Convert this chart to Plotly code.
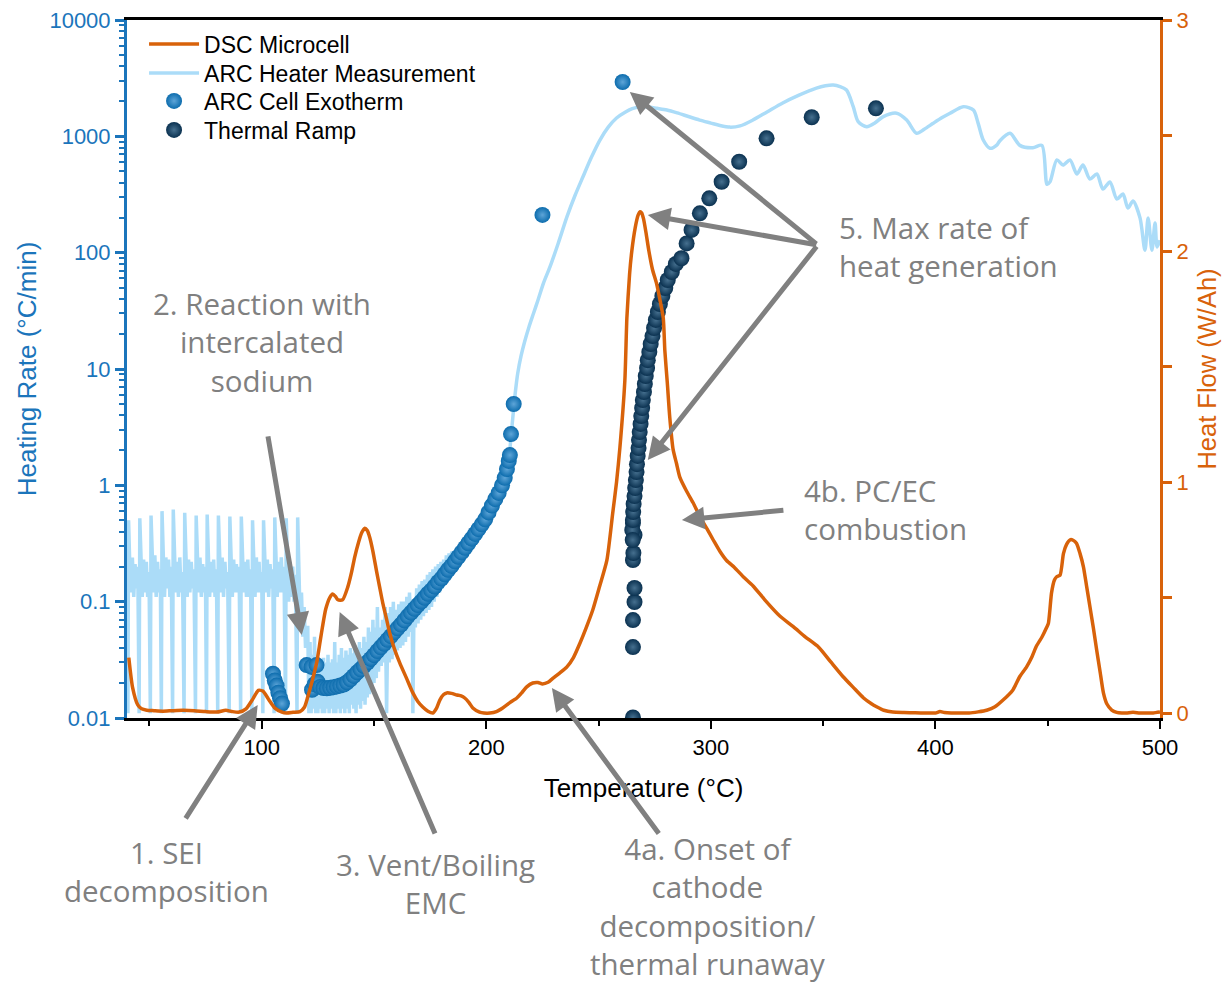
import plotly.graph_objects as go

# ---------------- DSC Microcell (heat flow, W/Ah, right axis) ----------------
dsc_temp = [40.8, 42.5, 44.8, 46.5, 48.8, 52, 56, 60, 65, 70, 75, 80, 84, 87, 90, 93, 96, 98.5,
            100.5, 103, 106, 109, 111, 114, 117, 119, 120.5, 122.5, 124.5, 126, 127, 128.5,
            130.3, 131.6, 132.8, 133.9, 136, 138.3, 140, 141.4, 143, 144.5, 145.9, 147, 148.1,
            149.5, 151.2, 152.5, 153.9, 155.5, 157, 159, 161.5, 164.5, 167.3, 169.5, 171.7,
            174, 176.2, 177.8, 179.3, 181, 182.4, 184.5, 186.9, 188.8, 190.4, 192.3, 194, 197,
            199, 201.6, 204.5, 207.3, 210.5, 213.6, 216, 218, 220.7, 223, 225, 227.5, 229.6,
            232.5, 235.9, 238.8, 241.6, 244.5, 247.4, 250.5, 253.7, 256.3, 258, 259.5, 261.7,
            262.6, 263.8, 264.8, 266.3, 267.6, 268.5, 269.2, 270, 271.1, 272.4, 274, 275.8,
            277.3, 278.8, 279.5, 280.6, 281.7, 283.2, 284.7, 286.2, 289.2, 292.1, 295.1, 298.1,
            301, 304, 307, 310.5, 314.4, 318.8, 324, 330.7, 336.7, 342, 348, 353.5, 358.9,
            363.5, 368, 371.5, 373.8, 377, 381, 386, 391, 396, 400, 402, 404, 407, 411, 415,
            419, 422.8, 426.5, 430, 434.5, 437.5, 440.6, 443, 445, 447.5, 449.5, 450.3, 451,
            451.7, 453, 454, 455.5, 457, 458.4, 460, 461.3, 462.8, 464.4, 465.9, 467.3, 468.8,
            470.3, 471.8, 473.3, 474.8, 476.3, 478.5, 480.7, 483, 485, 488, 491, 494, 497,
            500]
dsc_heat_flow = [0.24, 0.11, 0.035, 0.018, 0.012, 0.01, 0.008, 0.01, 0.012, 0.01, 0.006,
                 0.004, 0.012, 0.006, 0.004, 0.018, 0.06, 0.098, 0.095, 0.06, 0.02, 0.004,
                 0.0, 0.003, 0.006, 0.025, 0.07, 0.14, 0.22, 0.31, 0.37, 0.45, 0.50, 0.515,
                 0.505, 0.49, 0.49, 0.545, 0.61, 0.675, 0.735, 0.78, 0.80, 0.79, 0.76, 0.70,
                 0.61, 0.545, 0.476, 0.41, 0.346, 0.28, 0.216, 0.15, 0.087, 0.05, 0.026,
                 0.008, 0.0, 0.02, 0.056, 0.08, 0.087, 0.085, 0.078, 0.074, 0.065, 0.045,
                 0.022, 0.004, 0.0, 0.0, 0.006, 0.022, 0.045, 0.065, 0.09, 0.113, 0.13, 0.132,
                 0.126, 0.133, 0.15, 0.172, 0.20, 0.24, 0.30, 0.37, 0.446, 0.55, 0.662, 0.866,
                 1.0, 1.15, 1.44, 1.71, 1.90, 2.0, 2.10, 2.155, 2.17, 2.165, 2.14, 2.08, 2.0,
                 1.92, 1.86, 1.79, 1.71, 1.57, 1.43, 1.28, 1.14, 1.08, 1.02, 0.96, 0.91, 0.85,
                 0.80, 0.75, 0.70, 0.66, 0.63, 0.59, 0.55, 0.49, 0.42, 0.374, 0.33, 0.285,
                 0.22, 0.157, 0.11, 0.065, 0.04, 0.027, 0.012, 0.004, 0.002, 0.001, 0.0, 0.0,
                 0.006, 0.002, 0.0, 0.0, 0.0, 0.005, 0.012, 0.027, 0.055, 0.10, 0.157, 0.20,
                 0.244, 0.29, 0.33, 0.37, 0.388, 0.45, 0.52, 0.576, 0.59, 0.597, 0.69, 0.73,
                 0.75, 0.748, 0.735, 0.69, 0.633, 0.55, 0.46, 0.37, 0.273, 0.18, 0.087, 0.04,
                 0.013, 0.003, 0.0, 0.0, 0.003, 0.0, 0.0, 0.0, 0.004, 0.01]

# ---------------- ARC heater measurement (heating rate, °C/min) ----------------
# heater cycling during the heat-wait-seek steps
heater_temp_cycling = [
    40.4, 40.7, 41.2, 41.8, 42.4, 43.0, 43.6, 44.2, 44.8,
    45.4, 45.7, 46.2, 46.8, 47.4, 48.0, 48.6, 49.2, 49.8,
    50.4, 50.7, 51.2, 51.8, 52.4, 53.0, 53.6, 54.2, 54.8,
    55.3, 55.6, 56.1, 56.7, 57.3, 57.9, 58.5, 59.1, 59.7,
    60.3, 60.6, 61.1, 61.7, 62.3, 62.9, 63.5, 64.1, 64.7,
    65.4, 65.7, 66.2, 66.8, 67.4, 68.0, 68.6, 69.2, 69.8,
    70.5, 70.8, 71.3, 71.9, 72.5, 73.1, 73.7, 74.3, 74.9,
    75.4, 75.7, 76.2, 76.8, 77.4, 78.0, 78.6, 79.2, 79.8,
    80.4, 80.7, 81.2, 81.8, 82.4, 83.0, 83.6, 84.2, 84.8,
    85.5, 85.8, 86.3, 86.9, 87.5, 88.1, 88.7, 89.3, 89.9,
    90.6, 90.9, 91.4, 92.0, 92.6, 93.2, 93.8, 94.4, 95.0,
    95.6, 95.9, 96.4, 97.0, 97.6, 98.2, 98.8, 99.4, 100.0,
    100.5, 100.8, 101.3, 101.9, 102.5, 103.1, 103.7, 104.3, 104.9,
    105.5, 105.8, 106.3, 106.9, 107.5, 108.1, 108.7, 109.3, 109.9,
    110.6, 110.9, 111.4, 112.0, 112.6, 113.2, 113.8, 114.4, 115.0,
    115.7, 116.0, 116.5, 117.1, 117.7, 118.3, 118.9, 119.5, 120.0]
heater_rate_cycling = [
    0.011, 0.50, 0.22, 0.12, 0.24, 0.11, 0.21, 0.13, 0.20,
    0.011, 0.52, 0.20, 0.11, 0.23, 0.12, 0.22, 0.11, 0.18,
    0.011, 0.55, 0.23, 0.12, 0.25, 0.11, 0.22, 0.12, 0.19,
    0.011, 0.60, 0.22, 0.11, 0.24, 0.13, 0.23, 0.11, 0.20,
    0.011, 0.62, 0.24, 0.12, 0.22, 0.11, 0.24, 0.12, 0.18,
    0.011, 0.58, 0.21, 0.11, 0.23, 0.12, 0.22, 0.13, 0.19,
    0.011, 0.55, 0.22, 0.12, 0.24, 0.11, 0.21, 0.12, 0.20,
    0.011, 0.56, 0.23, 0.11, 0.22, 0.12, 0.23, 0.11, 0.19,
    0.011, 0.55, 0.21, 0.12, 0.24, 0.11, 0.22, 0.13, 0.18,
    0.011, 0.54, 0.22, 0.11, 0.23, 0.12, 0.21, 0.12, 0.20,
    0.011, 0.54, 0.23, 0.12, 0.22, 0.11, 0.23, 0.11, 0.19,
    0.011, 0.50, 0.21, 0.11, 0.24, 0.12, 0.22, 0.12, 0.18,
    0.011, 0.50, 0.22, 0.12, 0.23, 0.11, 0.21, 0.13, 0.19,
    0.011, 0.53, 0.23, 0.11, 0.22, 0.12, 0.24, 0.12, 0.20,
    0.011, 0.52, 0.20, 0.10, 0.22, 0.11, 0.20, 0.10, 0.17,
    0.011, 0.53, 0.15, 0.07, 0.12, 0.05, 0.09, 0.04, 0.06]

# venting / early exotherm region
heater_temp_vent = [
    120.5, 121.0, 121.5, 122.0, 122.5, 123.0, 123.5, 124.0, 124.5, 125.0, 125.5, 126.0,
    126.5, 127.0, 127.5, 128.0, 128.5, 129.0, 129.5, 130.0, 130.5, 131.0, 131.5, 132.0,
    132.5, 133.0, 133.5, 134.0, 134.5, 135.0, 135.5, 136.0, 136.5, 137.0, 137.5, 138.0,
    138.5, 139.0, 139.5, 140.0, 140.5, 141.0, 141.5, 142.0, 142.5, 143.0, 143.5, 144.0,
    144.5, 145.0, 145.5, 146.0, 146.5, 147.0, 147.5, 148.0, 148.5, 149.0, 149.5, 150.0,
    150.5, 151.0, 151.5, 152.0, 152.6, 153.2, 153.8, 154.4, 155.0, 155.6, 156.2, 156.8,
    157.4, 158.0, 158.6, 159.2, 159.8, 160.4, 161.0, 161.6, 162.2, 162.8, 163.4, 164.0,
    164.6, 165.2, 165.8, 166.4, 167.0, 167.3, 167.8, 168.4, 169.0, 169.6, 170.2, 170.8,
    171.4, 172.0, 172.6, 173.2, 173.8, 174.4, 175.0, 175.6, 176.2, 176.8, 177.4, 178.0,
    178.6, 179.2, 179.8, 180.4, 181.0, 181.6, 182.2, 182.8, 183.4, 184.0, 184.6, 185.2,
    187.0, 190.0, 193.0, 196.0, 199.0, 202.0, 205.0, 208.0, 210.0]
heater_rate_vent = [
    0.06, 0.011, 0.045, 0.011, 0.035, 0.012, 0.05, 0.011, 0.032, 0.011, 0.030, 0.012,
    0.028, 0.011, 0.033, 0.011, 0.030, 0.012, 0.035, 0.011, 0.030, 0.012, 0.032, 0.011,
    0.045, 0.011, 0.030, 0.012, 0.035, 0.011, 0.040, 0.012, 0.033, 0.011, 0.038, 0.012,
    0.035, 0.011, 0.040, 0.013, 0.036, 0.012, 0.042, 0.011, 0.040, 0.013, 0.045, 0.012,
    0.040, 0.014, 0.050, 0.013, 0.045, 0.015, 0.060, 0.016, 0.055, 0.018, 0.070, 0.020,
    0.060, 0.022, 0.090, 0.025, 0.060, 0.028, 0.070, 0.030, 0.090, 0.011, 0.080, 0.030,
    0.090, 0.032, 0.100, 0.035, 0.085, 0.038, 0.095, 0.040, 0.100, 0.042, 0.100, 0.045,
    0.110, 0.050, 0.120, 0.055, 0.100, 0.011, 0.090, 0.060, 0.130, 0.065, 0.140, 0.070,
    0.150, 0.075, 0.155, 0.080, 0.170, 0.085, 0.180, 0.090, 0.190, 0.100, 0.200, 0.110,
    0.210, 0.120, 0.220, 0.130, 0.230, 0.140, 0.250, 0.150, 0.260, 0.160, 0.270, 0.180,
    0.230, 0.280, 0.340, 0.410, 0.500, 0.620, 0.820, 1.100, 1.6]

# thermal runaway and post-runaway heater response (smooth record)
heater_temp_runaway = [
    210.0, 211.0, 212.0, 213.0, 214.0, 215.5, 217.0, 219.0, 221.0, 223.0, 225.5, 228.3,
    232.0, 235.9, 239.5, 243.0, 246.8, 250.6, 254.3, 258.0, 262.0, 265.0, 268.4, 272.0,
    276.0, 280.4, 285.0, 290.0, 295.0, 300.0, 304.0, 308.5, 313.0, 318.7, 325.0, 332.0,
    339.0, 347.0, 351.0, 354.5, 357.5, 360.4, 363.4, 365.6, 369.4, 373.0, 376.6, 382.7,
    387.2, 391.6, 395.0, 399.0, 403.0, 406.5, 412.4, 416.9, 419.0, 421.3, 424.3, 427.3,
    428.7, 433.2, 437.6, 443.4, 447.4, 449.7, 451.0, 454.1, 456.8, 459.9, 463.0, 465.7,
    468.8, 471.9, 474.6, 477.7, 480.8, 483.5, 485.7, 488.0, 491.1, 493.3, 494.7, 496.4,
    497.8, 498.7, 500.0]
heater_rate_runaway = [
    1.6, 2.6, 4.2, 6.5, 9.2, 13, 17, 23, 30, 39, 55, 75,
    120, 203, 310, 447, 660, 929, 1200, 1438, 1620, 1730, 1787, 1790,
    1740, 1683, 1590, 1480, 1380, 1300, 1240, 1200, 1230, 1380, 1620, 1937,
    2250, 2600, 2720, 2760, 2680, 2500, 1800, 1336, 1208, 1300, 1470, 1580,
    1380, 1062, 1150, 1294, 1450, 1580, 1800, 1680, 1300, 929, 789, 840,
    918, 1062, 836, 797, 836, 387, 406, 627, 567, 627, 474, 567,
    430, 474, 352, 405, 289, 319, 242, 278, 199, 105, 199, 105,
    180, 112, 128]

# ---------------- ARC cell exotherm (self-heating points) ----------------
exotherm_temp = [
    105.0, 105.8, 106.6, 107.4, 108.2, 109.0,
    120.0, 122.2, 124.4, 122.4, 123.6,
    124.8, 126.0, 127.5, 129.0, 130.5, 132.0, 133.5, 135.0, 136.5, 138.0, 139.5, 141.0,
    142.5, 144.0, 145.5, 147.0, 148.5, 150.0, 151.5, 153.0, 154.5, 156.0, 157.5, 159.0,
    160.5, 162.0, 163.5, 165.0, 166.5, 168.0, 169.5, 171.0, 172.5, 174.0, 175.5, 177.0,
    178.5, 180.0, 181.5, 183.0, 184.5, 186.0, 187.5, 189.0, 190.5, 192.0, 193.5, 195.0,
    196.5, 198.0, 199.5, 201.0, 202.5, 204.0, 205.5, 207.0, 208.2, 209.2, 210.0, 210.5,
    211.0, 212.2, 225.0, 260.7]
exotherm_rate = [
    0.024, 0.021, 0.019, 0.0165, 0.0148, 0.0133,
    0.0285, 0.0275, 0.0285, 0.0175, 0.0195,
    0.0205, 0.0185, 0.0181, 0.0180, 0.0182, 0.0184, 0.0187, 0.0190, 0.0194, 0.0203, 0.0215,
    0.0230, 0.0247, 0.0262, 0.0280, 0.0300, 0.0322, 0.0347, 0.0376, 0.0405, 0.0435, 0.0470,
    0.0505, 0.0547, 0.0590, 0.0635, 0.0690, 0.0748, 0.0805, 0.0868, 0.0935, 0.100, 0.108,
    0.117, 0.125, 0.135, 0.147, 0.158, 0.172, 0.188, 0.203, 0.222, 0.243, 0.265, 0.290,
    0.318, 0.348, 0.382, 0.420, 0.462, 0.510, 0.585, 0.670, 0.760, 0.860, 1.00, 1.16, 1.38,
    1.62, 1.82, 2.76, 5.0, 211, 2930]

# ---------------- Thermal ramp points ----------------
ramp_temp = [
    265.3, 265.3, 265.3, 266.0, 266.0, 265.3, 265.5, 266.0, 265.3, 265.0, 265.2,
    265.26, 265.4, 265.6, 266.0, 266.3, 266.6, 266.9, 267.1, 267.4, 267.8, 268.0, 268.3,
    268.7, 269.0, 269.4, 269.7, 270.2, 270.6, 271.0, 271.6, 271.9, 272.6, 273.2, 274.0,
    274.7, 275.5, 276.4, 277.3, 278.4, 279.7, 280.8, 282.6, 284.4, 286.9,
    289.2, 291.4, 295.1, 299.3, 304.8, 312.6, 324.8, 344.9, 373.5]
ramp_rate = [
    0.0101, 0.0407, 0.0695, 0.0993, 0.131, 0.228, 0.262, 0.374, 0.474, 0.413, 0.339,
    0.503, 0.590, 0.691, 0.809, 0.948, 1.11, 1.30, 1.52, 1.79, 2.09, 2.45, 2.87,
    3.37, 3.94, 4.62, 5.41, 6.34, 7.43, 8.71, 10.2, 11.9, 14.0, 16.4, 19.2,
    22.5, 26.4, 30.9, 36.2, 42.4, 49.7, 58.2, 68.2, 80.0, 89.5,
    120, 157, 218, 293, 407, 605, 962, 1459, 1742]

heater_temp_noisy = heater_temp_cycling + heater_temp_vent
heater_rate_noisy = heater_rate_cycling + heater_rate_vent

# ---------------- styling ----------------
ORANGE = "#d8620a"
LIGHT_BLUE = "#abdcf8"
EXO_BLUE = "#0c6cad"
RAMP_NAVY = "#0a3150"
AXIS_BLUE = "#1b75bb"
NOTE_GRAY = "#808080"
TICK_FONT = "Liberation Sans, Arial, sans-serif"
NOTE_FONT = "Open Sans, sans-serif"
LEGEND_FONT = dict(family=TICK_FONT, size=23, color="black")

fig = go.Figure()

# heater record: noisy part as straight segments, runaway part smoothed
fig.add_trace(go.Scatter(
    x=heater_temp_noisy, y=heater_rate_noisy, mode="lines", name="ARC Heater Measurement",
    line=dict(color=LIGHT_BLUE, width=3.5), legend="legend2", legendgroup="heater",
    yaxis="y"))
fig.add_trace(go.Scatter(
    x=heater_temp_runaway, y=heater_rate_runaway, mode="lines", name="ARC Heater Measurement",
    line=dict(color=LIGHT_BLUE, width=3.5, shape="spline", smoothing=0.8),
    legendgroup="heater", showlegend=False, yaxis="y"))

fig.add_trace(go.Scatter(
    x=exotherm_temp, y=exotherm_rate, mode="markers", name="ARC Cell Exotherm",
    marker=dict(size=16, color=EXO_BLUE, line=dict(width=0),
                gradient=dict(type="radial", color="#5ea5d8")),
    legend="legend3", yaxis="y"))

fig.add_trace(go.Scatter(
    x=ramp_temp, y=ramp_rate, mode="markers", name="Thermal Ramp",
    marker=dict(size=16, color=RAMP_NAVY, line=dict(width=0),
                gradient=dict(type="radial", color="#46708f")),
    legend="legend4", yaxis="y"))

fig.add_trace(go.Scatter(
    x=dsc_temp, y=dsc_heat_flow, mode="lines", name="DSC Microcell",
    line=dict(color=ORANGE, width=3.5, shape="spline", smoothing=0.6),
    legend="legend", yaxis="y2"))

# ---------------- annotations ----------------
notes = [
    dict(text="2. Reaction with<br>intercalated<br>sodium", x=0.1307, y=0.5387,
         xanchor="center", align="center"),
    dict(text="5. Max rate of<br>heat generation", x=0.6873, y=0.6762,
         xanchor="left", align="left"),
    dict(text="4b. PC/EC<br>combustion", x=0.6534, y=0.2994,
         xanchor="left", align="left"),
    dict(text="1. SEI<br>decomposition", x=0.0387, y=-0.2192,
         xanchor="center", align="center"),
    dict(text="3. Vent/Boiling<br>EMC", x=0.2991, y=-0.2378,
         xanchor="center", align="center"),
    dict(text="4a. Onset of<br>cathode<br>decomposition/<br>thermal runaway", x=0.5615,
         y=-0.2693, xanchor="center", align="center"),
]
annotations = []
for n in notes:
    annotations.append(dict(
        text=n["text"], x=n["x"], y=n["y"], xref="paper", yref="paper",
        xanchor=n["xanchor"], yanchor="middle", align=n["align"], showarrow=False,
        font=dict(family=NOTE_FONT, size=29.5, color=NOTE_GRAY)))

# arrows: tip in data coordinates (temperature, heat flow), tail offset in pixels
arrows = [
    (98.2, 0.035, -73, 115),
    (117.8, 0.338, -34, -200),
    (134.7, 0.437, 96, 223),
    (229.2, 0.108, 108, 147),
    (287.1, 0.835, 103, -10),
    (263.9, 2.688, 188, 153),
    (271.9, 2.156, 170, 30),
    (271.9, 1.095, 170, -215),
]
for tx, ty, ax, ay in arrows:
    annotations.append(dict(
        text="", x=tx, y=ty, xref="x", yref="y2", ax=ax, ay=ay, showarrow=True,
        arrowhead=2, arrowsize=0.9, arrowwidth=5, arrowcolor=NOTE_GRAY, standoff=0))

# one legend box per entry so the rows sit at fixed heights
legend_rows = [0.9656, 0.9241, 0.8840, 0.8424]
legend_common = dict(x=0.0165, xanchor="left", yanchor="middle", bgcolor="rgba(0,0,0,0)",
                     font=LEGEND_FONT, itemwidth=50, borderwidth=0)

minor_log_ticks = [m * 10.0 ** e for e in range(-2, 4) for m in range(2, 10)]

fig.update_layout(
    width=1223, height=986,
    margin=dict(l=127, r=63, t=20, b=268, autoexpand=False),
    paper_bgcolor="white", plot_bgcolor="white",
    font=dict(family=TICK_FONT, size=22, color="black"),
    showlegend=True,
    legend=dict(y=legend_rows[0], **legend_common),
    legend2=dict(y=legend_rows[1], **legend_common),
    legend3=dict(y=legend_rows[2], **legend_common),
    legend4=dict(y=legend_rows[3], **legend_common),
    annotations=annotations,
    xaxis=dict(
        range=[40, 500], tickvals=[100, 200, 300, 400, 500], showgrid=False, zeroline=False,
        ticks="outside", ticklen=8, tickwidth=2, tickcolor="black",
        showline=True, linecolor="black", linewidth=3, mirror=True,
        minor=dict(tickvals=[50, 150, 250, 350, 450], ticks="outside", ticklen=5,
                   tickwidth=2, tickcolor="black"),
        tickfont=dict(family=TICK_FONT, size=22, color="black"),
        title=dict(text="Temperature (°C)", standoff=20,
                   font=dict(family=TICK_FONT, size=26, color="black")),
    ),
    yaxis=dict(
        type="log", range=[-2, 4], dtick=1, tickformat="~g", showgrid=False,
        zeroline=False, ticks="outside", ticklen=9, tickwidth=2.5, tickcolor=AXIS_BLUE,
        showline=True, linecolor=AXIS_BLUE, linewidth=3,
        minor=dict(tickvals=minor_log_ticks, ticks="outside", ticklen=5, tickwidth=2,
                   tickcolor=AXIS_BLUE),
        tickfont=dict(family=TICK_FONT, size=22, color=AXIS_BLUE),
        title=dict(text="Heating Rate (°C/min)", standoff=6,
                   font=dict(family=TICK_FONT, size=26, color=AXIS_BLUE)),
    ),
    yaxis2=dict(
        overlaying="y", side="right", anchor="x", range=[-0.0216, 3],
        tickvals=[0, 1, 2, 3], showgrid=False, zeroline=False,
        ticks="outside", ticklen=9, tickwidth=2.5, tickcolor=ORANGE,
        showline=True, linecolor=ORANGE, linewidth=3,
        minor=dict(tickvals=[0.5, 1.5, 2.5], ticks="outside", ticklen=9, tickwidth=2.5,
                   tickcolor=ORANGE),
        tickfont=dict(family=TICK_FONT, size=22, color=ORANGE),
        title=dict(text="Heat Flow (W/Ah)", standoff=11,
                   font=dict(family=TICK_FONT, size=25.5, color=ORANGE)),
    ),
)

fig.write_html("out.html")
